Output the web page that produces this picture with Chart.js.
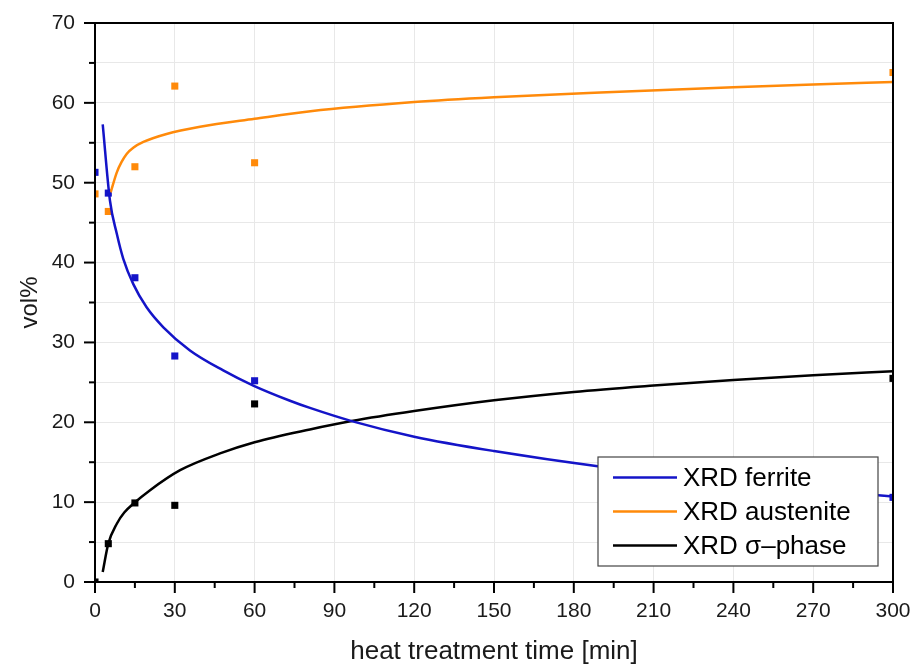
<!DOCTYPE html>
<html>
<head>
<meta charset="utf-8">
<script src="https://cdn.jsdelivr.net/npm/chart.js@4"></script>
<style>
  body { margin: 0; background: #fff; }
  #wrap { width: 914px; height: 667px; }
</style>
</head>
<body>
<div id="wrap"><canvas id="chart" width="914" height="667"></canvas></div>
<script>
// measured values (XRD)
var timeMin = [0, 5, 15, 30, 60, 300];
var ferriteMeas = [51.3, 48.7, 38.1, 28.3, 25.2, 10.6];
var austeniteMeas = [48.6, 46.4, 52.0, 62.1, 52.5, 63.8];
var sigmaMeas = [0.0, 4.8, 9.9, 9.6, 22.3, 25.5];

// fitted curves
var ferriteFitX = [2.9, 5.6, 8.2, 10.6, 14.4, 19.4, 25.7, 35.7, 48.2, 59.5, 73.3, 80.8, 96.5, 120, 150, 189, 210, 240, 270, 300];
var ferriteFitY = [57.3, 47.8, 43.6, 40.5, 37.3, 34.4, 31.9, 29.0, 26.5, 24.6, 22.7, 21.8, 20.15, 18.2, 16.4, 14.5, 13.7, 12.6, 11.6, 10.7];
var austeniteFitX = [5.9, 8.2, 10, 11.9, 14.5, 18.2, 26.9, 39.5, 60, 81, 120, 150, 190, 240, 270, 300];
var austeniteFitY = [48.8, 51.3, 52.6, 53.6, 54.4, 55.1, 56.1, 57.0, 58.0, 58.95, 60.1, 60.7, 61.3, 61.95, 62.3, 62.6];
var sigmaFitX = [2.9, 5.0, 8.2, 11, 14.4, 20.7, 32, 47, 60, 80.8, 96.5, 120, 150, 180, 210, 240, 270, 300];
var sigmaFitY = [1.25, 4.8, 7.3, 8.7, 9.8, 11.5, 14.0, 16.1, 17.5, 19.1, 20.15, 21.4, 22.75, 23.8, 24.6, 25.3, 25.9, 26.4];

var seriesLabels = ['XRD ferrite', 'XRD austenite', 'XRD \u03c3\u2013phase'];
var seriesColors = ['#1414c8', '#ff8a0a', '#000000'];

var xTitle = 'heat treatment time [min]';
var yTitle = 'vol%';

var fontFam = '"Liberation Sans", Arial, sans-serif';

function pts(xs, ys) {
	var out = [];
	for (var i = 0; i < xs.length; i++) out.push({ x: xs[i], y: ys[i] });
	return out;
}

var fits = [pts(ferriteFitX, ferriteFitY), pts(austeniteFitX, austeniteFitY), pts(sigmaFitX, sigmaFitY)];
var meas = [pts(timeMin, ferriteMeas), pts(timeMin, austeniteMeas), pts(timeMin, sigmaMeas)];

var datasets = [];
for (var i = 0; i < 3; i++) {
	datasets.push({
		label: seriesLabels[i],
		data: fits[i],
		showLine: true,
		borderColor: seriesColors[i],
		borderWidth: 2.5,
		pointRadius: 0,
		cubicInterpolationMode: 'monotone'
	});
}
for (var i = 0; i < 3; i++) {
	datasets.push({
		label: seriesLabels[i] + ' data',
		data: meas[i],
		showLine: false,
		pointStyle: 'rect',
		pointRadius: 5,
		pointBorderWidth: 0,
		backgroundColor: seriesColors[i],
		borderColor: seriesColors[i]
	});
}

// tick marks, frame and legend box
var decor = {
	id: 'decor',
	afterDraw: function(chart) {
		var c = chart.ctx, a = chart.chartArea;
		var xs = chart.scales.x, ys = chart.scales.y;
		c.save();
		c.strokeStyle = '#000';
		c.lineWidth = 2;
		xs.ticks.forEach(function(t) {
			var px = xs.getPixelForValue(t.value);
			var len = t.value % 30 === 0 ? 11 : 6;
			c.beginPath(); c.moveTo(px, a.bottom); c.lineTo(px, a.bottom + len); c.stroke();
		});
		ys.ticks.forEach(function(t) {
			var py = ys.getPixelForValue(t.value);
			var len = t.value % 10 === 0 ? 11 : 6;
			c.beginPath(); c.moveTo(a.left, py); c.lineTo(a.left - len, py); c.stroke();
		});
		c.strokeRect(a.left, a.top, a.right - a.left, a.bottom - a.top);

		// legend
		var lx = 598, ly = 457, lw = 280, lh = 109;
		c.fillStyle = '#fff';
		c.fillRect(lx, ly, lw, lh);
		c.lineWidth = 1.2;
		c.strokeStyle = '#444';
		c.strokeRect(lx, ly, lw, lh);
		c.font = '26px ' + fontFam;
		c.textBaseline = 'middle';
		for (var i = 0; i < 3; i++) {
			var ry = ly + 20.5 + i * 34;
			c.strokeStyle = seriesColors[i];
			c.lineWidth = 2.5;
			c.beginPath(); c.moveTo(lx + 15, ry); c.lineTo(lx + 79, ry); c.stroke();
			c.fillStyle = '#000';
			c.fillText(seriesLabels[i], lx + 85, ry + 1);
		}
		c.restore();
	}
};

var gridGray = '#e8e8e8';

new Chart(document.getElementById('chart').getContext('2d'), {
	type: 'scatter',
	data: { datasets: datasets },
	options: {
		responsive: false,
		animation: false,
		layout: { padding: { top: 23, right: 21, left: 0, bottom: 0 } },
		plugins: { legend: { display: false }, tooltip: { enabled: false } },
		scales: {
			x: {
				type: 'linear',
				min: 0,
				max: 300,
				afterFit: function(s) { s.height = 85; s.paddingLeft = 0; s.paddingRight = 0; },
				ticks: {
					stepSize: 15,
					autoSkip: false,
					maxRotation: 0,
					padding: 17,
					color: '#1a1a1a',
					font: { family: fontFam, size: 21 },
					callback: function(v) { return v % 30 === 0 ? v : ''; }
				},
				grid: {
					drawTicks: false,
					color: function(ctx) { return ctx.tick && ctx.tick.value % 30 === 0 ? gridGray : 'rgba(0,0,0,0)'; },
					lineWidth: 1
				},
				border: { display: true, color: '#000', width: 2 },
				title: {
					display: true,
					text: xTitle,
					color: '#1a1a1a',
					font: { family: fontFam, size: 26 },
					padding: { top: 0, bottom: 0 }
				}
			},
			y: {
				min: 0,
				max: 70,
				afterFit: function(s) { s.width = 95; s.paddingTop = 0; s.paddingBottom = 0; },
				ticks: {
					stepSize: 5,
					autoSkip: false,
					padding: 20,
					color: '#1a1a1a',
					font: { family: fontFam, size: 21 },
					callback: function(v) { return v % 10 === 0 ? v : ''; }
				},
				grid: { drawTicks: false, color: gridGray, lineWidth: 1 },
				border: { display: true, color: '#000', width: 2 },
				title: {
					display: true,
					text: yTitle,
					color: '#1a1a1a',
					font: { family: fontFam, size: 24 },
					padding: { top: 16, bottom: 0 }
				}
			}
		}
	},
	plugins: [decor]
});
</script>
</body>
</html>
